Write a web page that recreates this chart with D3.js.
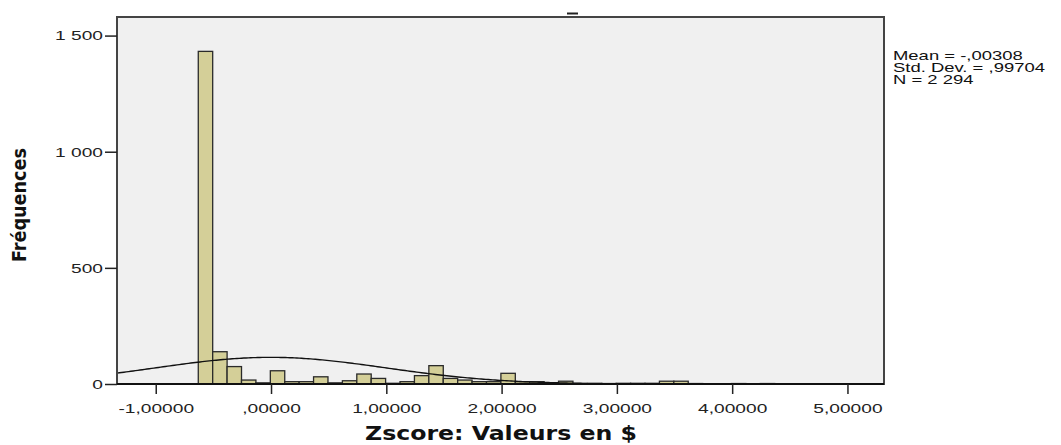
<!DOCTYPE html>
<html>
<head>
<meta charset="utf-8">
<script src="https://cdn.jsdelivr.net/npm/d3@7"></script>
<style>
  html, body { margin: 0; padding: 0; background: #fff; }
  svg { display: block; }
</style>
</head>
<body>
<svg id="chart" width="1061" height="445"></svg>
<script>
// histogram data
const binStart = -0.631;
const binWidth = 0.125;
const counts = [1432, 139, 75, 17, 5, 57, 10, 10, 31, 5,
                14, 43, 24, 3, 10, 36, 79, 24, 17, 10,
                10, 46, 10, 10, 3, 12, 2, 2, 2, 3,
                3, 3, 12, 12, 2, 1, 0, 2, 1, 2];

// stats shown at right
const meanZ = -0.00308;
const sdZ = 0.99704;
const nTotal = 2294;
const statLines = ["Mean = -,00308", "Std. Dev. = ,99704", "N = 2 294"];

// ticks
const xTicks = [-1, 0, 1, 2, 3, 4, 5];
const xTickLabels = ["-1,00000", ",00000", "1,00000", "2,00000", "3,00000", "4,00000", "5,00000"];
const yTicks = [0, 500, 1000, 1500];
const yTickLabels = ["0", "500", "1 000", "1 500"];

const xTitle = "Zscore:  Valeurs en $";
const yTitle = "Fréquences";

const svg = d3.select("#chart");
const pl = 117, pr = 884, pt = 17, pb = 384;

const x = d3.scaleLinear().domain([-1.336, 5.317]).range([pl, pr]);
const y = d3.scaleLinear().domain([0, 1580]).range([pb, pt]);

// plot background
svg.append("rect")
  .attr("x", pl).attr("y", pt)
  .attr("width", pr - pl).attr("height", pb - pt)
  .attr("fill", "#f0f0f0");

// bars
svg.append("g").selectAll("rect")
  .data(counts)
  .join("rect")
  .attr("x", (d, i) => x(binStart + i * binWidth))
  .attr("width", (d, i) => x(binStart + (i + 1) * binWidth) - x(binStart + i * binWidth))
  .attr("y", d => y(d))
  .attr("height", d => y(0) - y(d))
  .attr("fill", "#d4cf98")
  .attr("stroke", "#2a2a2a")
  .attr("stroke-width", 1.3);

// normal curve
const curvePts = d3.range(x.domain()[0], x.domain()[1] + 0.001, 0.02).map(v => {
  const z = (v - meanZ) / sdZ;
  return [v, nTotal * binWidth / (sdZ * Math.sqrt(2 * Math.PI)) * Math.exp(-0.5 * z * z)];
});
svg.append("path")
  .datum(curvePts)
  .attr("fill", "none")
  .attr("stroke", "#111")
  .attr("stroke-width", 1.4)
  .attr("d", d3.line().x(d => x(d[0])).y(d => y(d[1])));

// frame
svg.append("rect")
  .attr("x", pl).attr("y", pt)
  .attr("width", pr - pl).attr("height", pb - pt)
  .attr("fill", "none")
  .attr("stroke", "#444")
  .attr("stroke-width", 2);
svg.append("line")
  .attr("x1", pl).attr("x2", pr)
  .attr("y1", pb).attr("y2", pb)
  .attr("stroke", "#111").attr("stroke-width", 2);

// x axis
const xAxis = d3.axisBottom(x)
  .tickValues(xTicks)
  .tickFormat((d, i) => xTickLabels[i])
  .tickSize(10)
  .tickPadding(6)
  .tickSizeOuter(0);
const gx = svg.append("g")
  .attr("transform", `translate(0,${pb})`)
  .call(xAxis);
gx.select(".domain").remove();
gx.selectAll(".tick line").attr("stroke", "#222").attr("stroke-width", 1.5);
gx.selectAll(".tick text")
  .attr("font-family", "Liberation Sans, Arial, sans-serif")
  .attr("font-size", 13.5)
  .attr("fill", "#222")
  .attr("y", 0).attr("dy", 0)
  .attr("transform", "translate(0,29) scale(1.42,1)");

// y axis
const yAxis = d3.axisLeft(y)
  .tickValues(yTicks)
  .tickFormat((d, i) => yTickLabels[i])
  .tickSize(12)
  .tickPadding(2)
  .tickSizeOuter(0);
const gy = svg.append("g")
  .attr("transform", `translate(${pl},0)`)
  .call(yAxis);
gy.select(".domain").remove();
gy.selectAll(".tick line").attr("stroke", "#222").attr("stroke-width", 1.5);
gy.selectAll(".tick text")
  .attr("font-family", "Liberation Sans, Arial, sans-serif")
  .attr("font-size", 13.5)
  .attr("fill", "#222")
  .attr("x", 0)
  .attr("transform", "translate(-14,0) scale(1.42,1)");

// axis titles
svg.append("text")
  .attr("x", 501)
  .attr("y", 440)
  .attr("text-anchor", "middle")
  .attr("font-family", "DejaVu Sans Condensed, Liberation Sans, sans-serif")
  .attr("font-weight", "bold")
  .attr("font-size", 19)
  .attr("textLength", 272)
  .attr("lengthAdjust", "spacingAndGlyphs")
  .attr("fill", "#111")
  .text(xTitle);

svg.append("text")
  .attr("transform", "translate(26,205) rotate(-90)")
  .attr("text-anchor", "middle")
  .attr("font-family", "DejaVu Sans Condensed, Liberation Sans, sans-serif")
  .attr("font-weight", "bold")
  .attr("font-size", 20)
  .attr("textLength", 114)
  .attr("lengthAdjust", "spacingAndGlyphs")
  .attr("fill", "#111")
  .text(yTitle);

// stats box text
svg.append("g").selectAll("text")
  .data(statLines)
  .join("text")
  .attr("font-family", "Liberation Sans, Arial, sans-serif")
  .attr("font-size", 13)
  .attr("fill", "#111")
  .attr("transform", (d, i) => `translate(893,${60 + i * 12}) scale(1.42,1)`)
  .text(d => d);

// truncated title remnant at the top
svg.append("line")
  .attr("x1", 567).attr("x2", 578)
  .attr("y1", 13.5).attr("y2", 13.5)
  .attr("stroke", "#222").attr("stroke-width", 2);
</script>
</body>
</html>
